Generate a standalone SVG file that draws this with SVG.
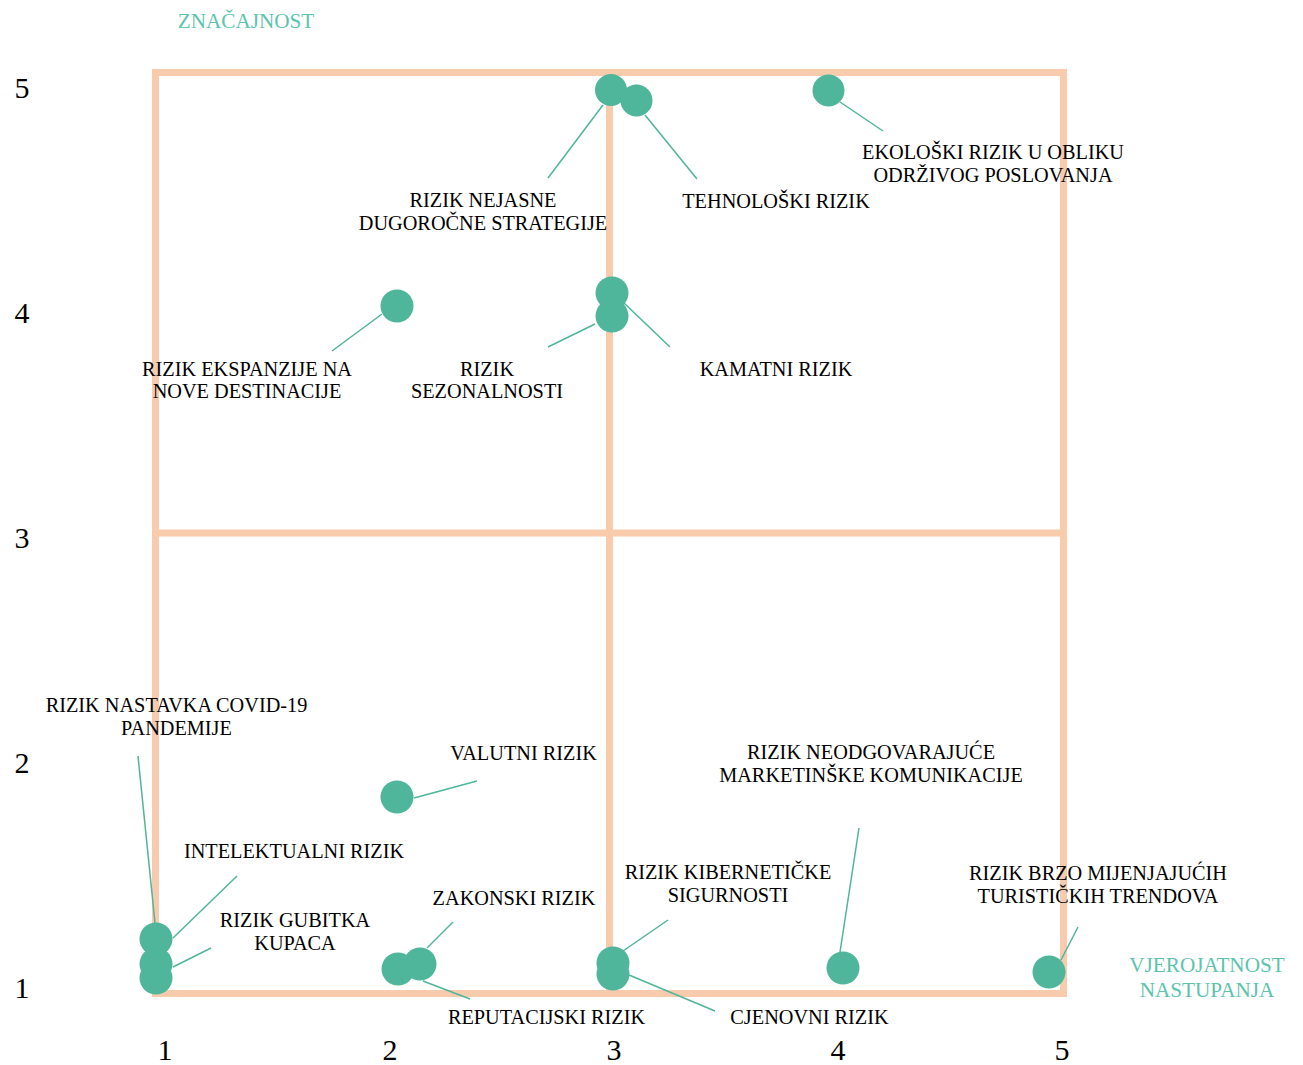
<svg xmlns="http://www.w3.org/2000/svg" width="1303" height="1065" viewBox="0 0 1303 1065">
<style>
.frame{fill:none;stroke:#F8CBAD;stroke-width:7}
.grid{stroke:#F8CBAD;stroke-width:7}
.dot{fill:#4FB59B}
.lead{stroke:#4FB59B;stroke-width:1.5;fill:none}
.lbl{font-family:"Liberation Serif","Times New Roman",serif;font-size:20.3px;fill:#000;text-anchor:middle}
.ax{font-family:"Liberation Serif","Times New Roman",serif;font-size:30px;fill:#000;text-anchor:middle}
.ttl{font-family:"Liberation Serif","Times New Roman",serif;font-size:21.2px;fill:#5CC4AD;text-anchor:middle}
</style>
<rect width="1303" height="1065" fill="#fff"/>
<g id="matrix">
<line class="grid" x1="609.5" y1="72.5" x2="609.5" y2="993.5"/>
<line class="grid" x1="155.5" y1="533" x2="1063.5" y2="533"/>
<rect class="frame" x="155.5" y="72.5" width="908" height="921"/>
</g>
<g id="axes">
<text class="ttl" x="246" y="28">ZNAČAJNOST</text>
<text class="ttl" x="1207" y="972">VJEROJATNOST</text>
<text class="ttl" x="1207" y="997">NASTUPANJA</text>
<text class="ax" x="22" y="98">5</text>
<text class="ax" x="22" y="323">4</text>
<text class="ax" x="22" y="548">3</text>
<text class="ax" x="22" y="773">2</text>
<text class="ax" x="22" y="998">1</text>
<text class="ax" x="165" y="1060">1</text>
<text class="ax" x="390" y="1060">2</text>
<text class="ax" x="614" y="1060">3</text>
<text class="ax" x="838" y="1060">4</text>
<text class="ax" x="1062" y="1060">5</text>
</g>
<g id="connectors">
<line class="lead" x1="603" y1="105" x2="548" y2="178"/>
<line class="lead" x1="645" y1="115" x2="697" y2="179"/>
<line class="lead" x1="840" y1="102" x2="883" y2="131"/>
<line class="lead" x1="382" y1="314" x2="332" y2="351"/>
<line class="lead" x1="595" y1="324" x2="548" y2="347"/>
<line class="lead" x1="624" y1="303" x2="670" y2="347"/>
<line class="lead" x1="138" y1="756" x2="155" y2="923"/>
<line class="lead" x1="173" y1="938" x2="237" y2="876"/>
<line class="lead" x1="173" y1="967" x2="211" y2="948"/>
<line class="lead" x1="414" y1="798" x2="477" y2="781"/>
<line class="lead" x1="427" y1="948" x2="453" y2="922"/>
<line class="lead" x1="423" y1="981" x2="470" y2="999"/>
<line class="lead" x1="623" y1="951" x2="668" y2="920"/>
<line class="lead" x1="629" y1="975" x2="715" y2="1011"/>
<line class="lead" x1="859" y1="828" x2="840" y2="952"/>
<line class="lead" x1="1061" y1="960" x2="1078" y2="927"/>
</g>
<g id="node-nejasne"><circle class="dot" cx="611" cy="90" r="16"/><text class="lbl" x="483" y="207">RIZIK NEJASNE</text><text class="lbl" x="483" y="230">DUGOROČNE STRATEGIJE</text></g>
<g id="node-tehnoloski"><circle class="dot" cx="636.5" cy="100.5" r="16"/><text class="lbl" x="776" y="208">TEHNOLOŠKI RIZIK</text></g>
<g id="node-ekoloski"><circle class="dot" cx="828.5" cy="90.5" r="16"/><text class="lbl" x="993" y="159">EKOLOŠKI RIZIK U OBLIKU</text><text class="lbl" x="993" y="182">ODRŽIVOG POSLOVANJA</text></g>
<g id="node-ekspanzija"><circle class="dot" cx="397" cy="306" r="16.5"/><text class="lbl" x="247" y="376">RIZIK EKSPANZIJE NA</text><text class="lbl" x="247" y="398">NOVE DESTINACIJE</text></g>
<g id="node-kamatni"><circle class="dot" cx="612" cy="293" r="16.5"/><text class="lbl" x="776" y="376">KAMATNI RIZIK</text></g>
<g id="node-sezonalnost"><circle class="dot" cx="612" cy="316" r="16.5"/><text class="lbl" x="487" y="376">RIZIK</text><text class="lbl" x="487" y="398">SEZONALNOSTI</text></g>
<g id="node-covid"><circle class="dot" cx="156" cy="939" r="16.5"/><text class="lbl" x="176.5" y="712">RIZIK NASTAVKA COVID-19</text><text class="lbl" x="176.5" y="735">PANDEMIJE</text></g>
<g id="node-intelektualni"><circle class="dot" cx="156" cy="964" r="16.5"/><text class="lbl" x="294" y="858">INTELEKTUALNI RIZIK</text></g>
<g id="node-gubitak"><circle class="dot" cx="156" cy="978" r="16.5"/><text class="lbl" x="295" y="927">RIZIK GUBITKA</text><text class="lbl" x="295" y="950">KUPACA</text></g>
<g id="node-valutni"><circle class="dot" cx="397" cy="797" r="16.5"/><text class="lbl" x="523.5" y="760">VALUTNI RIZIK</text></g>
<g id="node-reputacijski"><circle class="dot" cx="398" cy="969" r="16.5"/><text class="lbl" x="546.5" y="1024">REPUTACIJSKI RIZIK</text></g>
<g id="node-zakonski"><circle class="dot" cx="420" cy="964" r="16.5"/><text class="lbl" x="514" y="905">ZAKONSKI RIZIK</text></g>
<g id="node-kiberneticki"><circle class="dot" cx="613" cy="963" r="16.5"/><text class="lbl" x="728" y="879">RIZIK KIBERNETIČKE</text><text class="lbl" x="728" y="902">SIGURNOSTI</text></g>
<g id="node-cjenovni"><circle class="dot" cx="613" cy="974" r="16.5"/><text class="lbl" x="809.5" y="1024">CJENOVNI RIZIK</text></g>
<g id="node-marketing"><circle class="dot" cx="843" cy="968" r="16.5"/><text class="lbl" x="871" y="759">RIZIK NEODGOVARAJUĆE</text><text class="lbl" x="871" y="782">MARKETINŠKE KOMUNIKACIJE</text></g>
<g id="node-trendovi"><circle class="dot" cx="1049" cy="972" r="16.5"/><text class="lbl" x="1098" y="880">RIZIK BRZO MIJENJAJUĆIH</text><text class="lbl" x="1098" y="903">TURISTIČKIH TRENDOVA</text></g>
</svg>
